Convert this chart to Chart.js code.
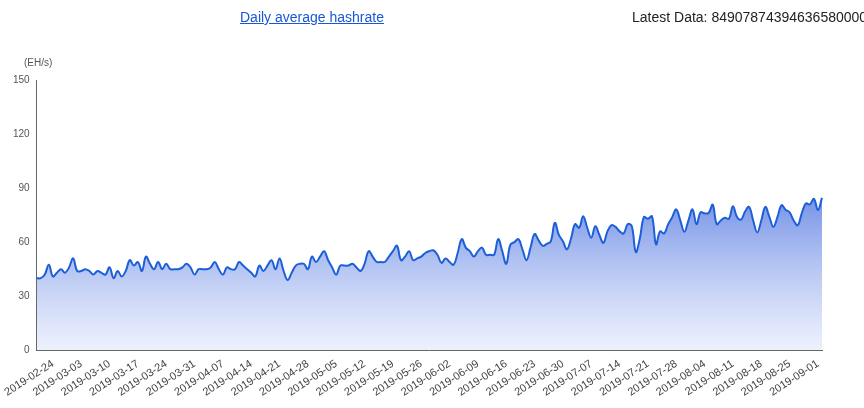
<!DOCTYPE html>
<html>
<head>
<meta charset="utf-8">
<script src="https://cdn.jsdelivr.net/npm/chart.js@4"></script>
<style>
  body { margin: 0; background: #fff; font-family: Arial, "Liberation Sans", sans-serif; }
  #wrap { position: relative; width: 864px; height: 408px; }
  #title { position: absolute; left: 240px; top: 9px; font-size: 14px; color: #1a56d6; text-decoration: underline; white-space: nowrap; }
  #latest { position: absolute; left: 632px; top: 9px; font-size: 14px; color: #222; white-space: nowrap; }
  #unit { position: absolute; left: 24px; top: 57px; font-size: 10px; color: #555; }
</style>
</head>
<body>
<div id="wrap">
  <div id="title">Daily average hashrate</div>
  <div id="latest">Latest Data: 84907874394636580000</div>
  <div id="unit">(EH/s)</div>
  <canvas id="c" width="864" height="408"></canvas>
</div>
<script>
// daily values, starting 2019-02-20
const hashrate = [
  40, 40, 42, 47.5, 41, 43, 45, 43, 46, 51,
  44, 44, 45, 44, 42, 44, 43, 42, 46, 40,
  44, 41, 44, 50, 47, 49, 44, 52, 48, 45,
  49, 45, 48, 45, 45, 45, 46, 48, 46, 42,
  45, 45, 45, 46, 49, 45, 42, 46, 45, 45,
  49, 47, 45, 43, 41, 47, 44, 47, 50, 45,
  51, 44, 39, 43, 47, 48, 48, 45, 52, 49,
  52, 55, 50, 46, 42, 47, 47, 47, 48, 46,
  44, 48, 55, 52, 49, 49, 49, 52, 55, 58,
  50, 52, 55, 50, 51, 52, 54, 55, 55.5, 53,
  48.5, 51, 49, 47.5, 54, 61.7, 57, 55, 52, 55,
  57, 53, 53, 53, 61.7, 55, 48, 58.5, 60, 61.7,
  56, 50, 57, 64.5, 61, 58, 59, 60.5, 70.7, 64,
  60.5, 56, 62, 70, 68, 74.4, 68, 62.5, 68.8, 64,
  59.6, 66, 69.5, 68.5, 66, 64.8, 70, 69, 54.5, 62,
  73.9, 73, 74.4, 58.8, 66, 64.8, 70, 73.9, 78.2, 72,
  65.8, 72, 78.2, 70, 76.6, 76, 76.2, 80.8, 70, 72,
  73.5, 73, 80, 74, 72.5, 77, 79.6, 72, 65.4, 72,
  79.6, 74, 68.5, 74, 80.5, 78, 76.6, 72, 69.4, 76,
  81.5, 81, 84, 77.8, 84.6
];
const yTicks = [0, 30, 60, 90, 120, 150];

// category labels: one date per value
const labels = [];
const start = new Date(Date.UTC(2019, 1, 20));
for (let i = 0; i < hashrate.length; i++) {
  const d = new Date(start.getTime() + i * 86400000);
  labels.push(d.toISOString().slice(0, 10));
}

new Chart(document.getElementById('c'), {
  type: 'line',
  data: {
    labels: labels,
    datasets: [{
      data: hashrate,
      borderColor: '#1c5fd8',
      borderWidth: 2,
      pointRadius: 0,
      tension: 0.4,
      fill: 'origin',
      backgroundColor: function (ctx) {
        const area = ctx.chart.chartArea;
        if (!area) return 'rgba(80,120,220,0.5)';
        const g = ctx.chart.ctx.createLinearGradient(0, area.top + 100, 0, area.bottom);
        g.addColorStop(0, 'rgba(90,125,225,0.95)');
        g.addColorStop(1, 'rgba(225,232,252,0.6)');
        return g;
      }
    }]
  },
  options: {
    responsive: false,
    animation: false,
    layout: { padding: { top: 80, right: 42, left: 10, bottom: 6 } },
    plugins: { legend: { display: false }, tooltip: { enabled: false } },
    scales: {
      x: {
        grid: { display: false, drawTicks: true, tickLength: 4 },
        border: { color: '#666' },
        ticks: {
          autoSkip: false,
          maxRotation: 33,
          minRotation: 33,
          color: '#444',
          font: { size: 11 },
          callback: function (v, i) {
            return (i - 4) % 7 === 0 ? labels[i] : null;
          }
        }
      },
      y: {
        min: 0,
        max: 150,
        afterBuildTicks: function (s) { s.ticks = yTicks.map(v => ({ value: v })); },
        grid: { display: false, tickLength: 4 },
        border: { color: '#666' },
        ticks: { color: '#555', font: { size: 10 } }
      }
    }
  }
});
</script>
</body>
</html>
